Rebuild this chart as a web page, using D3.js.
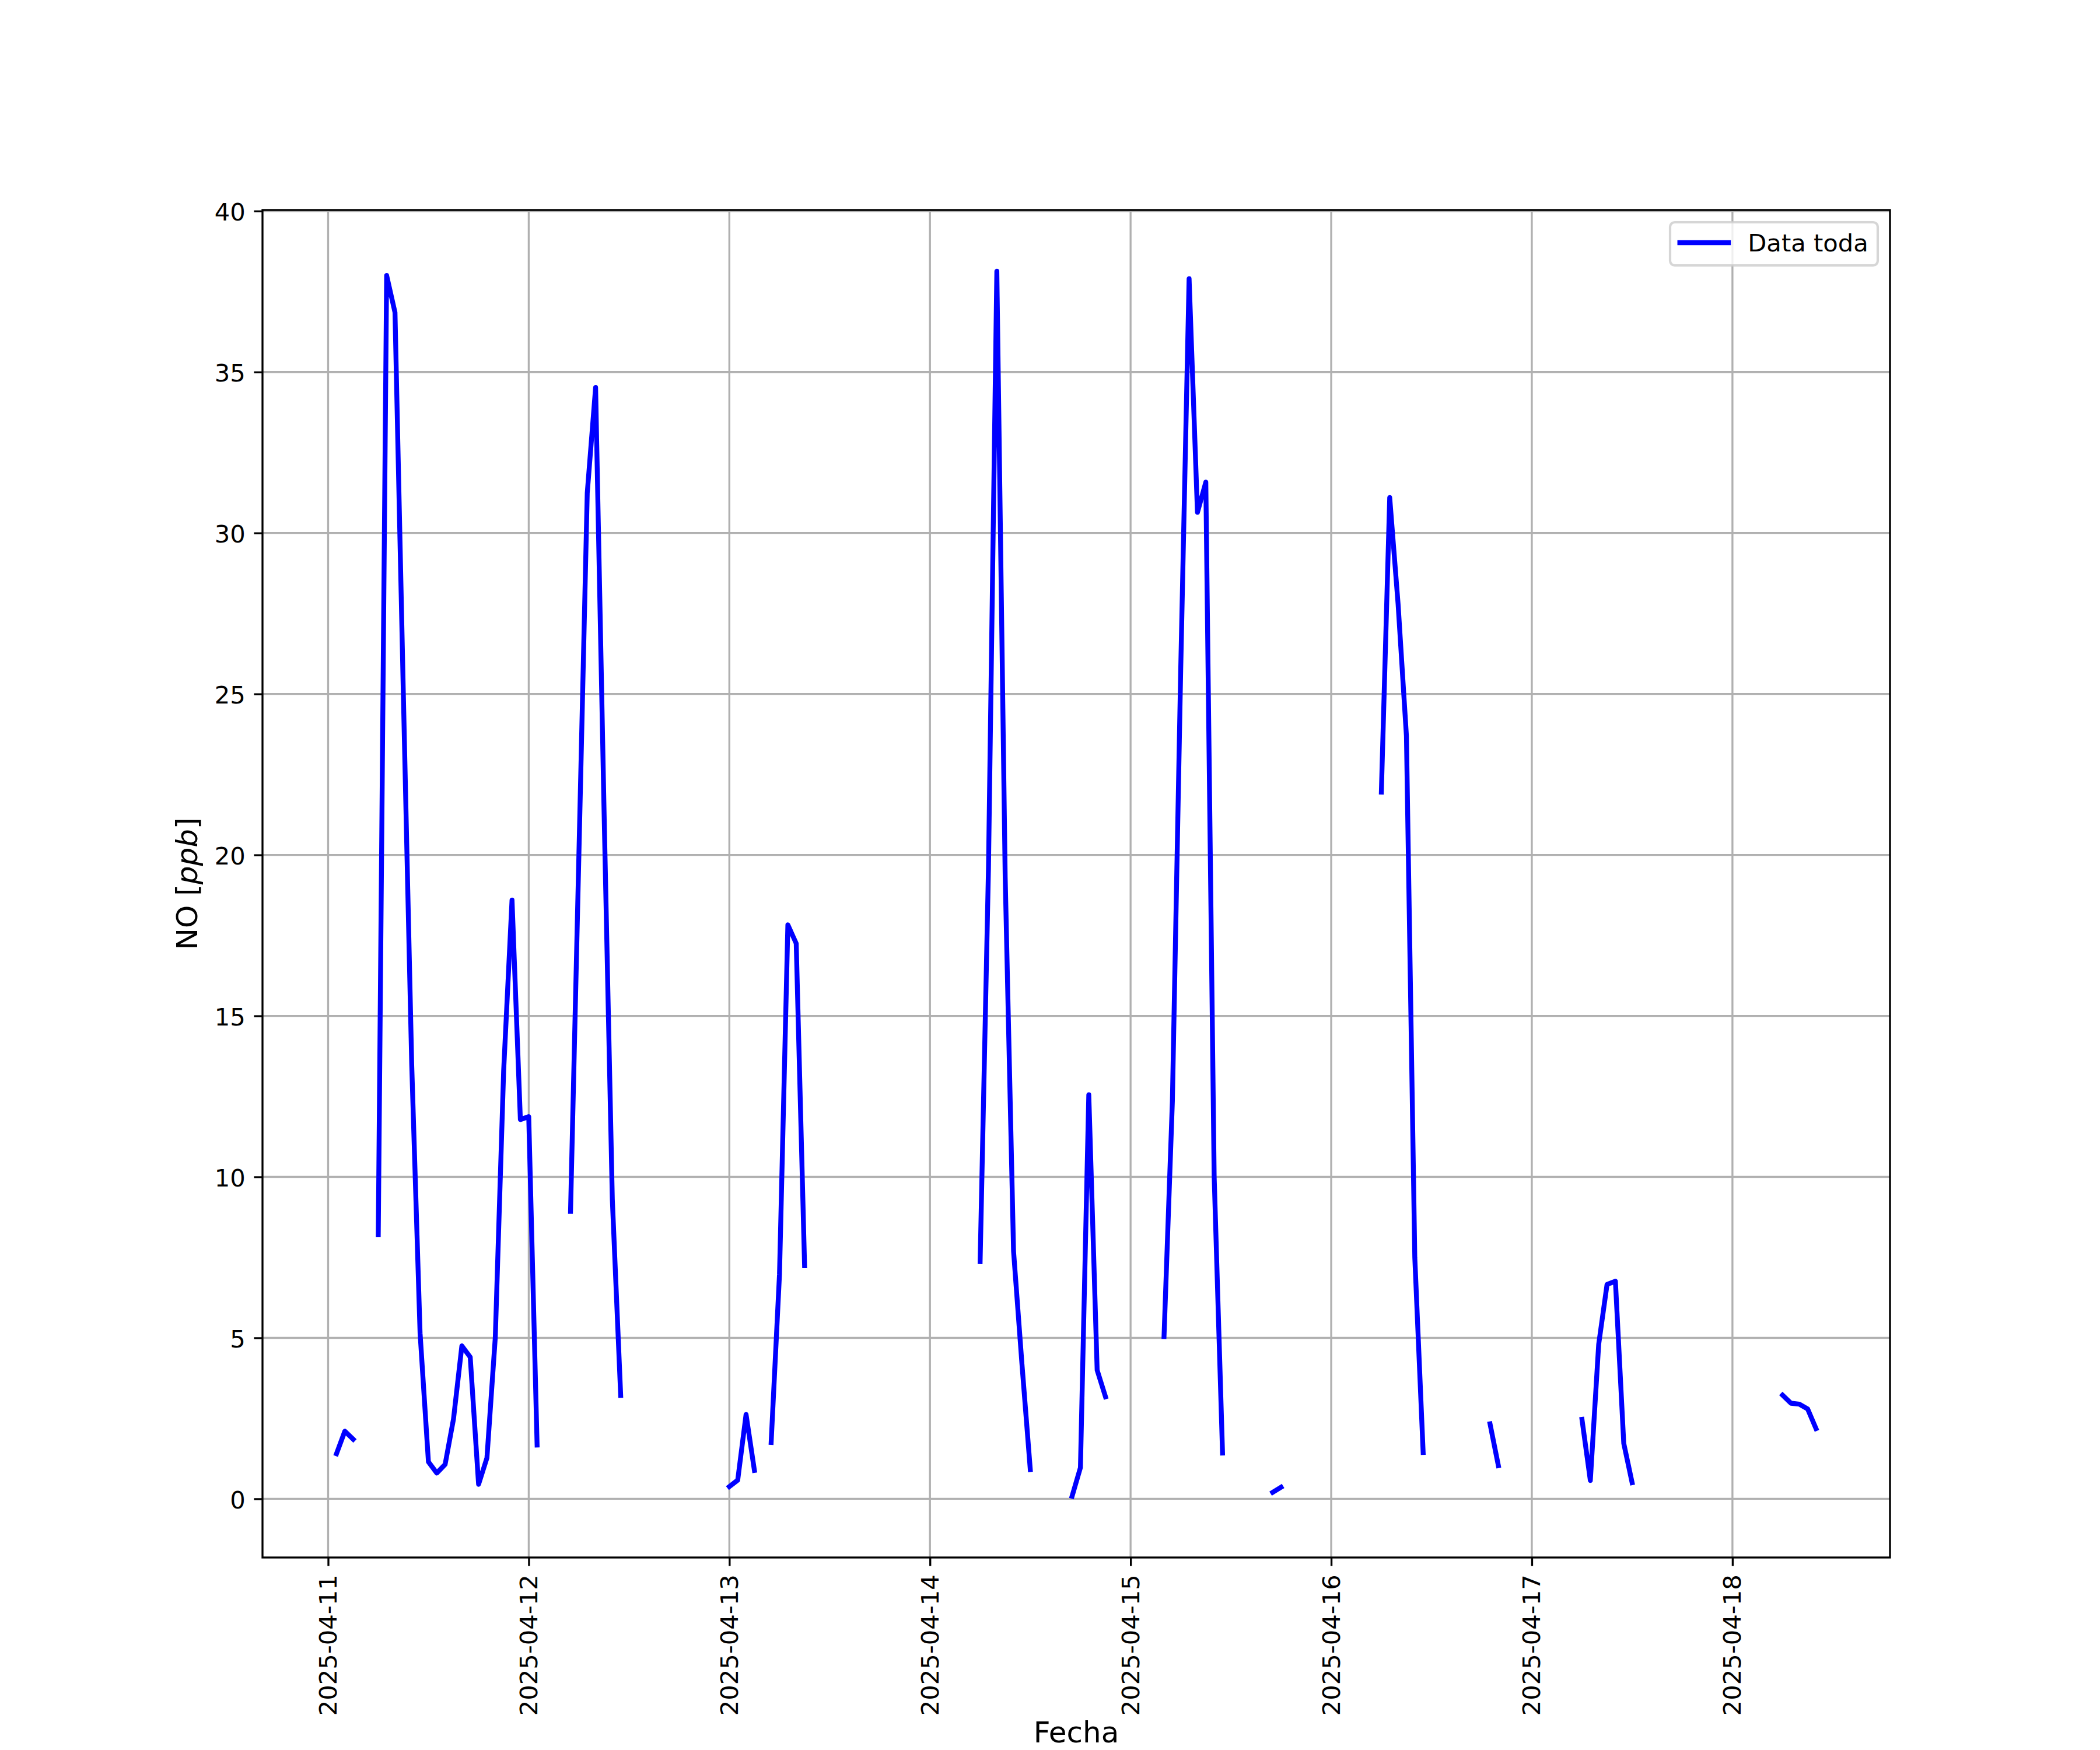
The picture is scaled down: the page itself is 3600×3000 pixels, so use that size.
<!DOCTYPE html>
<html><head><meta charset="utf-8">
<script src="https://cdn.jsdelivr.net/npm/d3@7"></script>
<style>body{margin:0;background:#fff}svg{display:block}</style>
</head><body>
<svg id="c" width="3600" height="3000"></svg>
<script>
// ---- data (hourly NO readings; null = missing hour, breaks the line) ----
const fechas = [
 "2025-04-11 01:00","2025-04-11 02:00","2025-04-11 03:00","2025-04-11 04:00",
 "2025-04-11 06:00","2025-04-11 07:00","2025-04-11 08:00","2025-04-11 09:00","2025-04-11 10:00",
 "2025-04-11 11:00","2025-04-11 12:00","2025-04-11 13:00","2025-04-11 14:00","2025-04-11 15:00",
 "2025-04-11 16:00","2025-04-11 17:00","2025-04-11 18:00","2025-04-11 19:00","2025-04-11 20:00",
 "2025-04-11 21:00","2025-04-11 22:00","2025-04-11 23:00","2025-04-12 00:00","2025-04-12 01:00",
 "2025-04-12 02:00",
 "2025-04-12 05:00","2025-04-12 06:00","2025-04-12 07:00","2025-04-12 08:00","2025-04-12 09:00",
 "2025-04-12 10:00","2025-04-12 11:00","2025-04-12 12:00",
 "2025-04-13 00:00","2025-04-13 01:00","2025-04-13 02:00","2025-04-13 03:00","2025-04-13 04:00",
 "2025-04-13 05:00","2025-04-13 06:00","2025-04-13 07:00","2025-04-13 08:00","2025-04-13 09:00",
 "2025-04-13 10:00",
 "2025-04-14 06:00","2025-04-14 07:00","2025-04-14 08:00","2025-04-14 09:00","2025-04-14 10:00",
 "2025-04-14 11:00","2025-04-14 12:00","2025-04-14 13:00",
 "2025-04-14 17:00","2025-04-14 18:00","2025-04-14 19:00","2025-04-14 20:00","2025-04-14 21:00",
 "2025-04-14 22:00",
 "2025-04-15 04:00","2025-04-15 05:00","2025-04-15 06:00","2025-04-15 07:00","2025-04-15 08:00",
 "2025-04-15 09:00","2025-04-15 10:00","2025-04-15 11:00","2025-04-15 12:00",
 "2025-04-15 17:00","2025-04-15 18:00","2025-04-15 19:00",
 "2025-04-16 06:00","2025-04-16 07:00","2025-04-16 08:00","2025-04-16 09:00","2025-04-16 10:00",
 "2025-04-16 11:00","2025-04-16 12:00",
 "2025-04-16 19:00","2025-04-16 20:00","2025-04-16 21:00",
 "2025-04-17 06:00","2025-04-17 07:00","2025-04-17 08:00","2025-04-17 09:00","2025-04-17 10:00",
 "2025-04-17 11:00","2025-04-17 12:00","2025-04-17 13:00",
 "2025-04-18 06:00","2025-04-18 07:00","2025-04-18 08:00","2025-04-18 09:00","2025-04-18 10:00"
];
const noPpb = [
 1.4, 2.1, 1.85, null,
 8.2, 38.0, 36.85, 25.0, 13.5,
 5.15, 1.15, 0.8, 1.07, 2.48,
 4.75, 4.4, 0.45, 1.27, 5.02,
 13.3, 18.6, 11.78, 11.87, 1.67,
 null,
 8.93, 20.0, 31.24, 34.52, 21.5,
 9.3, 3.21, null,
 0.38, 0.58, 2.62, 0.88, null,
 1.75, 6.98, 17.83, 17.25, 7.24,
 null,
 7.37, 19.6, 38.13, 19.3, 7.69,
 4.2, 0.91, null,
 0.08, 0.97, 12.55, 4.0, 3.17,
 null,
 5.04, 12.35, 25.8, 37.9, 30.64,
 31.58, 10.0, 1.42, null,
 0.2, 0.36, null,
 21.95, 31.1, 27.8, 23.7, 7.5,
 1.44, null,
 2.33, 1.03, null,
 2.47, 0.57, 4.8, 6.66, 6.76,
 1.72, 0.5, null,
 3.22, 2.97, 2.94, 2.79, 2.18
];
const xTickLabels = ["2025-04-11","2025-04-12","2025-04-13","2025-04-14",
                     "2025-04-15","2025-04-16","2025-04-17","2025-04-18"];
const yTickValues = [0, 5, 10, 15, 20, 25, 30, 35, 40];
const serieNombre = "Data toda";
const xTitulo = "Fecha";

// ---- layout ----
const W = 3600, H = 3000;
const L = 450, R = 3240, T = 360, B = 2670;
const PT = 300 / 72;       // px per point
const FS = 10 * PT;        // tick / legend font
const FSL = 12 * PT;       // axis label font

const parseT = d3.utcParse("%Y-%m-%d %H:%M");
const parseD = d3.utcParse("%Y-%m-%d");
const data = fechas.map((f, i) => ({t: parseT(f), v: noPpb[i]}));
const defined = data.filter(d => d.v != null);

const tExt = d3.extent(defined, d => d.t);
const tPad = (tExt[1] - tExt[0]) * 0.05;
const x = d3.scaleUtc()
  .domain([new Date(+tExt[0] - tPad), new Date(+tExt[1] + tPad)])
  .range([L, R]);
const vExt = d3.extent(defined, d => d.v);
const vPad = (vExt[1] - vExt[0]) * 0.05;
const y = d3.scaleLinear().domain([vExt[0] - vPad, vExt[1] + vPad]).range([B, T]);

const svg = d3.select("#c");
svg.append("rect").attr("width", W).attr("height", H).attr("fill", "#fff");

const xTicks = xTickLabels.map(s => parseD(s));

// grid
const grid = svg.append("g");
grid.selectAll("line.gx").data(xTicks).join("line")
  .attr("x1", d => x(d)).attr("x2", d => x(d)).attr("y1", T).attr("y2", B)
  .attr("stroke", "#b0b0b0").attr("stroke-width", 0.8 * PT);
grid.selectAll("line.gy").data(yTickValues).join("line")
  .attr("y1", d => y(d)).attr("y2", d => y(d)).attr("x1", L).attr("x2", R)
  .attr("stroke", "#b0b0b0").attr("stroke-width", 0.8 * PT);

// data line
const line = d3.line().defined(d => d.v != null).x(d => x(d.t)).y(d => y(d.v));
svg.append("path").datum(data).attr("d", line)
  .attr("fill", "none").attr("stroke", "#0000ff").attr("stroke-width", 2 * PT)
  .attr("stroke-linejoin", "round").attr("stroke-linecap", "square");

// axes
const tickLen = 3.5 * PT, tickPad = 3.5 * PT;
const xAxis = d3.axisBottom(x).tickValues(xTicks)
  .tickFormat((d, i) => xTickLabels[i]).tickSize(tickLen).tickSizeOuter(0);
const gx = svg.append("g").attr("transform", `translate(0,${B})`).call(xAxis);
gx.select(".domain").remove();
gx.selectAll(".tick line").attr("stroke", "#000").attr("stroke-width", 0.8 * PT);
gx.selectAll(".tick text")
  .attr("transform", "rotate(-90)")
  .attr("x", -(tickLen + tickPad)).attr("y", 14).attr("dy", null)
  .attr("text-anchor", "end")
  .attr("font-family", "DejaVu Sans").attr("font-size", FS).attr("fill", "#000");

const yAxis = d3.axisLeft(y).tickValues(yTickValues).tickFormat(d3.format("d"))
  .tickSize(tickLen).tickSizeOuter(0);
const gy = svg.append("g").attr("transform", `translate(${L},0)`).call(yAxis);
gy.select(".domain").remove();
gy.selectAll(".tick line").attr("stroke", "#000").attr("stroke-width", 0.8 * PT);
gy.selectAll(".tick text")
  .attr("x", -(tickLen + tickPad)).attr("dy", null).attr("y", 16)
  .attr("text-anchor", "end")
  .attr("font-family", "DejaVu Sans").attr("font-size", FS).attr("fill", "#000");

// spines
svg.append("rect").attr("x", L).attr("y", T).attr("width", R - L).attr("height", B - T)
  .attr("fill", "none").attr("stroke", "#000").attr("stroke-width", 0.8 * PT);

// axis titles
svg.append("text").attr("x", (L + R) / 2).attr("y", 2987)
  .attr("text-anchor", "middle").attr("font-family", "DejaVu Sans").attr("font-size", FSL)
  .text(xTitulo);
const yl = svg.append("text")
  .attr("transform", `translate(338,${(T + B) / 2}) rotate(-90)`)
  .attr("text-anchor", "middle").attr("font-family", "DejaVu Sans").attr("font-size", FSL);
yl.append("tspan").text("NO [");
yl.append("tspan").attr("font-style", "italic").text("ppb");
yl.append("tspan").text("]");

// legend
const lg = svg.append("g");
const lgX = 2863, lgY = 381, lgW = 3219 - 2863, lgH = 74;
lg.append("rect").attr("x", lgX).attr("y", lgY).attr("width", lgW).attr("height", lgH)
  .attr("rx", 8).attr("fill", "#fff").attr("fill-opacity", 0.8)
  .attr("stroke", "#cccccc").attr("stroke-opacity", 0.8).attr("stroke-width", 1 * PT);
lg.append("line").attr("x1", lgX + 16.7).attr("x2", lgX + 16.7 + 83.3)
  .attr("y1", 416).attr("y2", 416)
  .attr("stroke", "#0000ff").attr("stroke-width", 2 * PT).attr("stroke-linecap", "square");
lg.append("text").attr("x", lgX + 16.7 + 83.3 + 33.3).attr("y", 431)
  .attr("font-family", "DejaVu Sans").attr("font-size", FS).text(serieNombre);
</script>
</body></html>
